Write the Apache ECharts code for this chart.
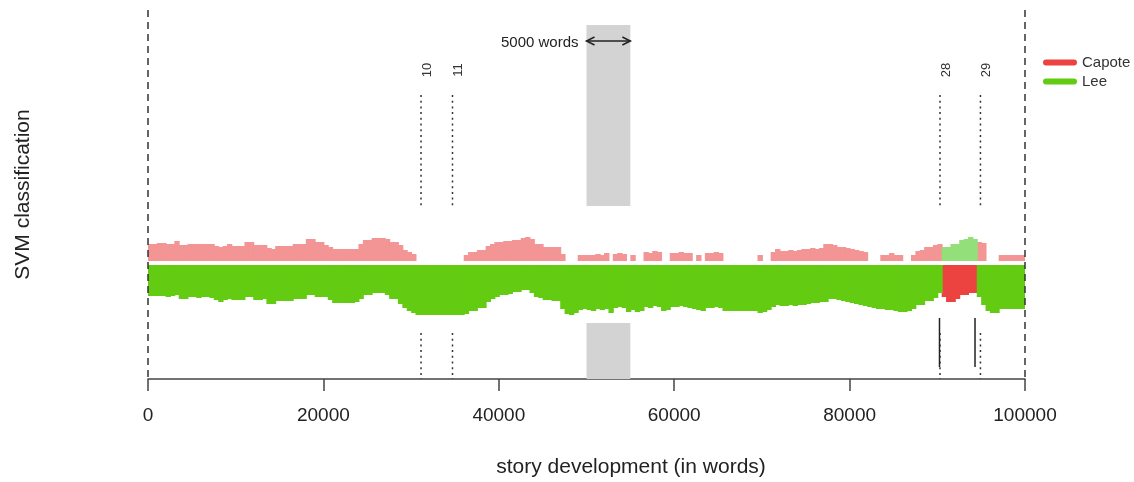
<!DOCTYPE html>
<html>
<head>
<meta charset="utf-8">
<script src="https://cdn.jsdelivr.net/npm/echarts@6/dist/echarts.min.js"></script>
<style>
html,body{margin:0;padding:0;background:#fff;}
#chart{width:1134px;height:482px;}
</style>
</head>
<body>
<div id="chart"></div>
<script>
// ---- data ----
const WINDOW = 500; // words per rolling window (category width)
// score of the winning (first-ranked) class, per window, drawn below the baseline
const firstScore = [
  31,31,31,31,32,31,30,34,34,32, 32,33,32,32,33,35,37,35,34,35,
  35,35,32,32,35,35,34,39,39,36, 36,36,36,34,34,34,30,30,32,32,
  32,35,38,38,38,38,38,37,34,30, 30,28,28,28,30,34,34,39,43,46,
  48,50,50,50,50,50,50,50,50,50, 50,50,49,46,46,43,43,37,34,32,
  30,30,29,27,27,25,25,28,32,33, 35,35,36,36,44,49,50,48,45,44,
  45,46,44,45,44,48,43,42,43,47, 45,47,46,42,43,41,42,46,45,42,
  42,41,42,43,44,45,46,43,43,42, 43,46,46,46,46,46,46,46,46,48,
  47,45,42,40,41,41,40,41,40,40, 39,38,38,37,37,34,34,35,36,37,
  38,39,40,41,42,43,44,44,45,45, 46,47,47,46,44,40,40,36,36,33,
  28,32,37,37,34,30,30,28,28,32, 40,46,48,48,44,44,44,44,44,44
];
// score of the second-ranked class, per window, drawn above the baseline (0 = not shown)
const secondScore = [
  17,17,18,18,17,17,20,16,16,17, 17,17,17,17,17,15,14,15,17,15,
  15,15,19,19,16,16,16,13,12,15, 15,15,15,17,17,17,22,22,19,19,
  16,14,12,12,12,12,12,12,17,21, 21,23,23,23,22,19,19,16,11,9,
  7,0,0,0,0,0,0,0,0,0, 0,0,6,9,9,11,11,15,17,19,
  19,20,20,21,21,23,24,22,17,17, 14,14,14,14,7,0,0,0,6,6,
  6,6,7,6,8,0,7,8,7,0, 6,0,0,9,8,10,9,0,0,8,
  8,9,8,8,0,6,0,8,8,9, 8,0,0,0,0,0,0,0,0,6,
  0,0,9,12,10,10,11,10,11,12, 12,13,12,13,17,17,16,14,14,13,
  12,11,10,9,0,0,0,6,6,8, 6,6,0,0,6,10,11,14,14,16,
  17,14,14,17,17,21,22,24,22,19, 18,0,0,0,6,6,6,6,6,6
];
// runs of the winning class: [class, number of windows]
const winnerRuns = [["Lee", 181], ["Capote", 8], ["Lee", 11]];
const classes = ["Capote", "Lee"];
// chapter breaks (words) and their labels
const chapterLabels = ["10", "11", "28", "29"];
const chapterPos = [31130, 34720, 90310, 94920];
// positions where the classification switches
const switchPos = [90250, 94300];
// sample window shown as grey band
const sampleWindow = [50000, 55000];
const sampleLabel = "5000 words";
const textLimits = [0, 100000];

// ---- build ----
const FONT = "'Liberation Sans', Arial, sans-serif";
const winner = [];
winnerRuns.forEach(([c, n]) => { for (let i = 0; i < n; i++) winner.push(c); });

const palette = {
  Capote: { first: '#ec4340', second: '#f29594' },
  Lee:    { first: '#63cc12', second: '#93e07a' }
};

function bandData(cls) {
  const out = [];
  for (let i = 0; i < firstScore.length; i++) {
    const s = i * WINDOW, e = s + WINDOW;
    if (winner[i] === cls) out.push([s, e, firstScore[i], -1]);
    else if (secondScore[i] > 0) out.push([s, e, secondScore[i], 1]);
  }
  return out;
}

function makeBandRender(cls) {
  return function (params, api) {
    const x0 = api.value(0), x1 = api.value(1), v = api.value(2), side = api.value(3);
    const gap = 2;
    const p0 = api.coord([x0, 0]);
    const p1 = api.coord([x1, side * v]);
    const yb = p0[1] - side * gap;
    const yt = p1[1] - side * gap;
    const last = x1 >= 100000;
    return {
      type: 'rect',
      shape: { x: p0[0], y: Math.min(yb, yt), width: p1[0] - p0[0] + (last ? 0 : 1), height: Math.abs(yt - yb) },
      style: { fill: side > 0 ? palette[cls].second : palette[cls].first }
    };
  };
}

function renderNotes(params, api) {
  const c = (x, y) => api.coord([x, y]);
  const kids = [];
  // grey sample window
  [[57, 238], [-116, -60]].forEach(([y0, y1]) => {
    const a = c(sampleWindow[0], y1), b = c(sampleWindow[1], y0);
    kids.push({ type: 'rect', shape: { x: a[0], y: a[1], width: b[0] - a[0], height: b[1] - a[1] }, style: { fill: '#d3d3d3' } });
  });
  // dashed text limits
  textLimits.forEach(x => {
    const a = c(x, 253), b = c(x, -119);
    kids.push({ type: 'line', z2: 10, shape: { x1: a[0], y1: a[1], x2: b[0], y2: b[1] }, style: { stroke: '#333', lineWidth: 1.5, lineDash: [7, 5] } });
  });
  // chapter breaks
  chapterPos.forEach((x, i) => {
    [[168, 55], [-70, -116]].forEach(([y0, y1]) => {
      const a = c(x, y0), b = c(x, y1);
      kids.push({ type: 'line', shape: { x1: a[0], y1: a[1], x2: b[0], y2: b[1] }, style: { stroke: '#333', lineWidth: 1.5, lineDash: [2, 3.7] } });
    });
    const t = c(x, 193);
    kids.push({ type: 'text', x: t[0] + 6, y: t[1], rotation: Math.PI / 2,
      style: { text: chapterLabels[i], fill: '#333', fontSize: 13, fontFamily: FONT, align: 'center', verticalAlign: 'middle' } });
  });
  // classification switches
  switchPos.forEach(x => {
    const a = c(x, -55), b = c(x, -104);
    kids.push({ type: 'line', shape: { x1: a[0], y1: a[1], x2: b[0], y2: b[1] }, style: { stroke: '#222', lineWidth: 1.5 } });
  });
  // arrow for sample window
  const l = c(sampleWindow[0], 222), r = c(sampleWindow[1], 222);
  const h = 8, w = 4;
  kids.push({ type: 'line', shape: { x1: l[0], y1: l[1], x2: r[0], y2: r[1] }, style: { stroke: '#222', lineWidth: 1.5 } });
  kids.push({ type: 'polyline', shape: { points: [[l[0] + h, l[1] - w], [l[0], l[1]], [l[0] + h, l[1] + w]] }, style: { stroke: '#222', lineWidth: 1.5, fill: null } });
  kids.push({ type: 'polyline', shape: { points: [[r[0] - h, r[1] - w], [r[0], r[1]], [r[0] - h, r[1] + w]] }, style: { stroke: '#222', lineWidth: 1.5, fill: null } });
  kids.push({ type: 'text', x: l[0] - 8, y: l[1] + 2,
    style: { text: sampleLabel, fill: '#222', fontSize: 15, fontFamily: FONT, align: 'right', verticalAlign: 'middle' } });
  return { type: 'group', children: kids };
}

const chart = echarts.init(document.getElementById('chart'), null, { renderer: 'canvas' });
const option = {
  animation: false,
  backgroundColor: '#fff',
  textStyle: { fontFamily: FONT },
  grid: { left: 148, right: 109, top: 10, bottom: 103, containLabel: false, outerBoundsMode: 'none' },
  xAxis: {
    type: 'value', min: 0, max: 100000, interval: 20000,
    axisLine: { show: true, onZero: false, lineStyle: { color: '#444', width: 1.5 } },
    axisTick: { show: true, length: 12, lineStyle: { color: '#444', width: 1.5 } },
    axisLabel: { fontSize: 19, color: '#222', margin: 27, fontFamily: FONT, formatter: v => String(v) },
    splitLine: { show: false },
    name: 'story development (in words)', nameLocation: 'middle', nameGap: 78,
    nameTextStyle: { fontSize: 21, color: '#222', fontFamily: FONT, padding: [0, 0, 0, 89] }
  },
  yAxis: {
    type: 'value', min: -116, max: 253,
    axisLine: { show: false }, axisTick: { show: false }, axisLabel: { show: false }, splitLine: { show: false },
    name: 'SVM classification', nameLocation: 'middle', nameRotate: 90, nameGap: 114,
    nameTextStyle: { fontSize: 21, color: '#222', fontFamily: FONT }
  },
  legend: {
    data: classes, orient: 'vertical', left: 1038, top: 50,
    icon: 'path://M3,0 H31 A3,3 0 0 1 31,6 H3 A3,3 0 0 1 3,0 Z',
    itemWidth: 34, itemHeight: 7, itemGap: 4,
    textStyle: { fontSize: 15, color: '#333', fontFamily: FONT }
  },
  series: [
    { type: 'custom', name: 'notes', data: [[0, 0]], renderItem: renderNotes, silent: true, z: 3, encode: { x: 0, y: 1 } },
    { type: 'custom', name: 'Capote', data: bandData('Capote'), renderItem: makeBandRender('Capote'),
      itemStyle: { color: palette.Capote.first }, encode: { x: [0, 1], y: 2 }, z: 2 },
    { type: 'custom', name: 'Lee', data: bandData('Lee'), renderItem: makeBandRender('Lee'),
      itemStyle: { color: palette.Lee.first }, encode: { x: [0, 1], y: 2 }, z: 2 }
  ]
};
chart.setOption(option);
</script>
</body>
</html>
